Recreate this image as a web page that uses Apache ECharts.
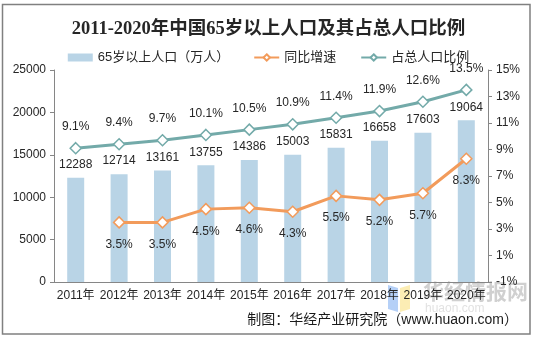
<!DOCTYPE html>
<html>
<head>
<meta charset="utf-8">
<script src="https://cdn.jsdelivr.net/npm/echarts@6/dist/echarts.min.js"></script>
<style>
  html, body { margin: 0; padding: 0; background: #fff; }
  #chart { width: 537px; height: 340px; }
</style>
</head>
<body>
<div id="chart"></div>
<script>
// Years on the category axis
const years = ['2011年', '2012年', '2013年', '2014年', '2015年', '2016年', '2017年', '2018年', '2019年', '2020年'];
// Population aged 65+ (10,000 persons)
const elderly = [12288, 12714, 13161, 13755, 14386, 15003, 15831, 16658, 17603, 19064];
// Year-on-year growth (%), none for the first year
const growth = [null, 3.5, 3.5, 4.5, 4.6, 4.3, 5.5, 5.2, 5.7, 8.3];
// Share of total population (%)
const share = [9.1, 9.4, 9.7, 10.1, 10.5, 10.9, 11.4, 11.9, 12.6, 13.5];

const FONT = '"Liberation Sans", Arial, "Noto Sans CJK SC", sans-serif';
const TXT = '#262626';

const chart = echarts.init(document.getElementById('chart'));
chart.setOption({
  backgroundColor: '#fff',
  animation: false,
  title: {
    text: '2011-2020年中国65岁以上人口及其占总人口比例',
    left: 'center',
    top: 15,
    textStyle: {
      fontFamily: '"Liberation Serif", "Noto Sans CJK SC", serif',
      fontWeight: 'bold',
      fontSize: 18.5,
      color: '#262626'
    }
  },
  legend: {
    top: 46,
    left: 'center',
    itemWidth: 25,
    itemHeight: 8,
    itemGap: 24,
    textStyle: { fontFamily: FONT, fontSize: 13, color: TXT },
    data: [
      { name: '65岁以上人口（万人）', icon: 'rect' },
      { name: '同比增速' },
      { name: '占总人口比例' }
    ]
  },
  grid: { left: 54, right: 49, top: 70, bottom: 58 },
  xAxis: {
    type: 'category',
    data: years,
    axisLine: { lineStyle: { color: '#868686', width: 1 } },
    axisTick: { lineStyle: { color: '#868686' }, length: 4 },
    axisLabel: { fontFamily: FONT, fontSize: 12, color: TXT, margin: 8, interval: 0 }
  },
  yAxis: [
    {
      type: 'value',
      min: 0, max: 25000, interval: 5000,
      axisLine: { show: true, lineStyle: { color: '#868686' } },
      axisTick: { show: true, lineStyle: { color: '#868686' }, length: 4 },
      splitLine: { show: false },
      axisLabel: { fontFamily: FONT, fontSize: 12, color: TXT, margin: 8, formatter: v => String(v) }
    },
    {
      type: 'value',
      min: -1, max: 15, interval: 2,
      axisLine: { show: true, lineStyle: { color: '#868686' } },
      axisTick: { show: true, lineStyle: { color: '#868686' }, length: 4 },
      splitLine: { show: false },
      axisLabel: { fontFamily: FONT, fontSize: 12, color: TXT, margin: 8, formatter: '{value}%' }
    }
  ],
  series: [
    {
      name: '65岁以上人口（万人）',
      type: 'bar',
      data: elderly,
      barWidth: 17,
      itemStyle: { color: '#b9d4e6' },
      label: { show: true, position: 'top', distance: 7, fontFamily: FONT, fontSize: 12, color: TXT }
    },
    {
      name: '同比增速',
      type: 'line',
      yAxisIndex: 1,
      data: growth,
      lineStyle: { color: '#f29b5b', width: 3 },
      itemStyle: { color: '#fff', borderColor: '#f29b5b', borderWidth: 1.5 },
      symbol: 'diamond',
      symbolSize: 11,
      label: { show: true, position: 'bottom', distance: 10, fontFamily: FONT, fontSize: 12, color: TXT, formatter: p => p.value.toFixed(1) + '%' }
    },
    {
      name: '占总人口比例',
      type: 'line',
      yAxisIndex: 1,
      data: share,
      lineStyle: { color: '#73aaa9', width: 3 },
      itemStyle: { color: '#fff', borderColor: '#73aaa9', borderWidth: 1.5 },
      symbol: 'diamond',
      symbolSize: 11,
      label: { show: true, position: 'top', distance: 9, fontFamily: FONT, fontSize: 12, color: TXT, formatter: p => p.value.toFixed(1) + '%' }
    }
  ],
  graphic: [
    {
      type: 'rect',
      shape: { x: 2.5, y: 4.5, width: 527.5, height: 329.5 },
      style: { fill: 'none', stroke: '#808080', lineWidth: 1.5 },
      silent: true
    },
    {
      type: 'text',
      right: 19,
      top: 313,
      style: { text: '制图：华经产业研究院（www.huaon.com）', fontFamily: FONT, fontSize: 14, fill: '#1a1a1a' }
    },
    {
      type: 'text',
      left: 423,
      top: 281,
      style: { text: '华经情报网', fontFamily: '"Noto Sans CJK SC", sans-serif', fontWeight: 'bold', fontSize: 21, fill: 'rgba(150,150,150,0.45)' }
    },
    {
      type: 'text',
      left: 425,
      top: 303,
      style: { text: 'huaon.com', fontFamily: FONT, fontSize: 12, fill: 'rgba(170,170,170,0.35)', letterSpacing: 3 }
    },
    {
      type: 'polygon',
      shape: { points: [[388, 285], [398, 288], [398, 312], [388, 309]] },
      style: { fill: 'rgba(120,170,240,0.55)' }
    },
    {
      type: 'polygon',
      shape: { points: [[400, 288], [410, 285], [410, 309], [400, 312]] },
      style: { fill: 'rgba(250,225,130,0.6)' }
    }
  ]
});
</script>
</body>
</html>
